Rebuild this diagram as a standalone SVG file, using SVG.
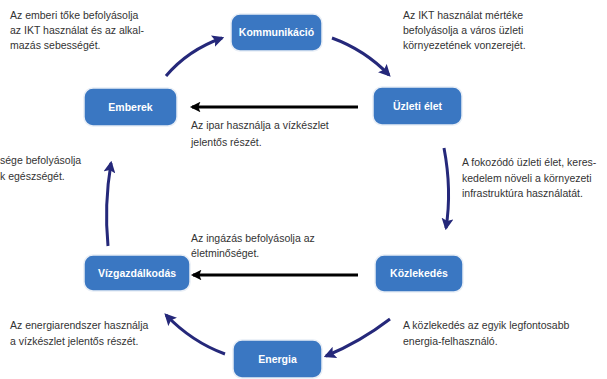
<svg xmlns="http://www.w3.org/2000/svg" width="607" height="379" viewBox="0 0 607 379">
<defs>
<style>
.node rect{fill:#3a77c2;stroke:#e8eef6;stroke-width:1.5}
.node text{fill:#fff;font-family:"Liberation Sans",Arial,sans-serif;font-weight:bold;font-size:10.5px;text-anchor:middle}
.lbl{fill:#333;font-family:"Liberation Sans",Arial,sans-serif;font-size:10.5px}
.blue{fill:none;stroke:#25287a;stroke-width:3}
.black{fill:none;stroke:#000;stroke-width:3}
</style>
<marker id="hb" viewBox="0 0 10 10" refX="8" refY="5" markerWidth="4" markerHeight="4" orient="auto" markerUnits="strokeWidth">
<path d="M0,0 L10,5 L0,10 L2,5 z" fill="#25287a"/>
</marker>
<marker id="hk" viewBox="0 0 10 10" refX="8" refY="5" markerWidth="4.5" markerHeight="3.5" orient="auto" markerUnits="strokeWidth">
<path d="M0,0 L10,5 L0,10 L2,5 z" fill="#000"/>
</marker>
</defs>
<rect width="607" height="379" fill="#fff"/>
<g id="connectors">
<path class="blue" d="M166,76 Q188,50 222,38" marker-end="url(#hb)"/>
<path class="blue" d="M332,38 Q365,50 389,75" marker-end="url(#hb)"/>
<path class="blue" d="M444,148 Q452,190 446,228" marker-end="url(#hb)"/>
<path class="blue" d="M390,319 Q360,342 326,356" marker-end="url(#hb)"/>
<path class="blue" d="M225,354 Q192,342 166,315" marker-end="url(#hb)"/>
<path class="blue" d="M108,246 Q104,205 111,163" marker-end="url(#hb)"/>
<path class="black" d="M358,107 L192,107" marker-end="url(#hk)"/>
<path class="black" d="M358,275 L193,275" marker-end="url(#hk)"/>
</g>
<g id="kommunikacio" class="node"><rect x="231" y="14" width="91" height="37" rx="9"/><text x="276.5" y="36">Kommunikáció</text></g>
<g id="emberek" class="node"><rect x="84" y="88" width="93" height="38" rx="9"/><text x="130.5" y="111">Emberek</text></g>
<g id="uzleti" class="node"><rect x="373" y="87" width="89" height="38" rx="9"/><text x="417.5" y="110">Üzleti élet</text></g>
<g id="kozlekedes" class="node"><rect x="375" y="255" width="88" height="37" rx="9"/><text x="419" y="277">Közlekedés</text></g>
<g id="vizgazdalkodas" class="node"><rect x="84" y="255" width="106" height="36" rx="9"/><text x="137" y="277">Vízgazdálkodás</text></g>
<g id="energia" class="node"><rect x="233" y="340" width="89" height="38" rx="9"/><text x="277.5" y="363">Energia</text></g>
<g id="labels">
<text class="lbl" x="10" y="19">Az emberi tőke befolyásolja</text>
<text class="lbl" x="10" y="34">az IKT használat és az alkal-</text>
<text class="lbl" x="10" y="49">mazás sebességét.</text>
<text class="lbl" x="403" y="19">Az IKT használat mértéke</text>
<text class="lbl" x="403" y="34">befolyásolja a város üzleti</text>
<text class="lbl" x="403" y="49">környezetének vonzerejét.</text>
<text class="lbl" x="0" y="164">sége befolyásolja</text>
<text class="lbl" x="0" y="180">k egészségét.</text>
<text class="lbl" x="462" y="166">A fokozódó üzleti élet, keres-</text>
<text class="lbl" x="462" y="182">kedelem növeli a környezeti</text>
<text class="lbl" x="462" y="197">infrastruktúra használatát.</text>
<text class="lbl" x="191" y="129">Az ipar használja a vízkészlet</text>
<text class="lbl" x="191" y="146">jelentős részét.</text>
<text class="lbl" x="191" y="242">Az ingázás befolyásolja az</text>
<text class="lbl" x="191" y="257">életminőséget.</text>
<text class="lbl" x="10" y="329">Az energiarendszer használja</text>
<text class="lbl" x="10" y="345">a vízkészlet jelentős részét.</text>
<text class="lbl" x="403" y="329">A közlekedés az egyik legfontosabb</text>
<text class="lbl" x="403" y="345">energia-felhasználó.</text>
</g>
</svg>
